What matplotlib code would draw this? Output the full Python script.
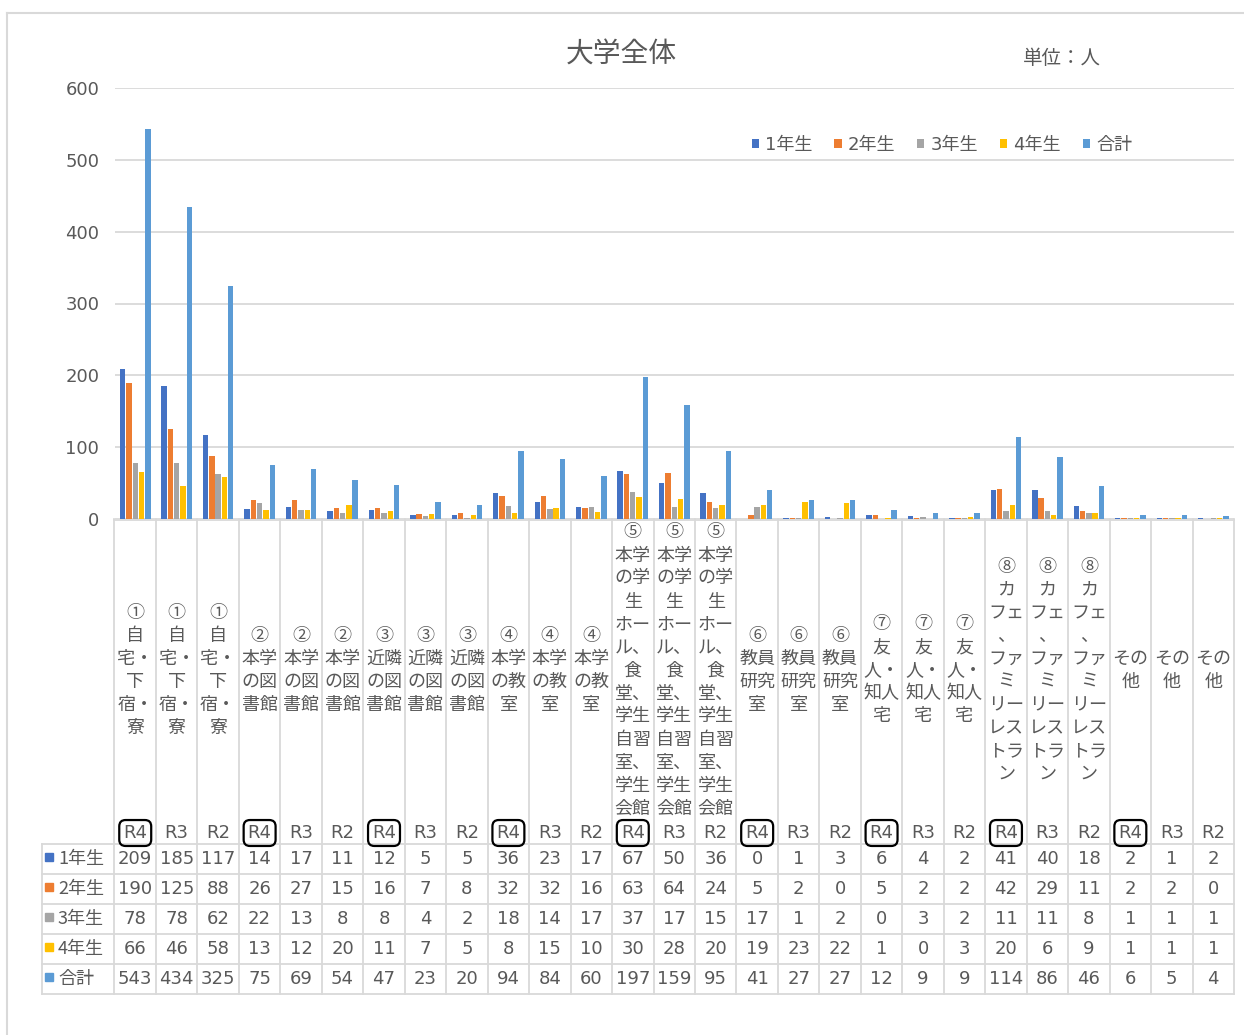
import matplotlib
matplotlib.use('Agg')
import matplotlib.pyplot as plt
from matplotlib import transforms
from matplotlib.lines import Line2D

plt.rcParams['font.family'] = ['DejaVu Sans', 'Noto Sans CJK JP']

# ---------------- data ----------------
series_names = ['1年生', '2年生', '3年生', '4年生', '合計']
colors = ['#4472C4', '#ED7D31', '#A5A5A5', '#FFC000', '#5B9BD5']
years = ['R4', 'R3', 'R2']
categories = ['①自宅・下宿・寮', '②本学の図書館', '③近隣の図書館', '④本学の教室',
              '⑤本学の学生ホール、食堂、学生自習室、学生会館', '⑥教員研究室',
              '⑦友人・知人宅', '⑧カフェ、ファミリーレストラン', 'その他']
category_lines = [
    ['①', '自', '宅・', '下', '宿・', '寮'],
    ['②', '本学', 'の図', '書館'],
    ['③', '近隣', 'の図', '書館'],
    ['④', '本学', 'の教', '室'],
    ['⑤', '本学', 'の学', '生', 'ホー', 'ル、', '食', '堂、', '学生', '自習', '室、', '学生', '会館'],
    ['⑥', '教員', '研究', '室'],
    ['⑦', '友', '人・', '知人', '宅'],
    ['⑧', 'カ', 'フェ', '、', 'ファ', 'ミ', 'リー', 'レス', 'トラ', 'ン'],
    ['その', '他'],
]
grade1 = [209, 185, 117, 14, 17, 11, 12, 5, 5, 36, 23, 17, 67, 50, 36, 0, 1, 3, 6, 4, 2, 41, 40, 18, 2, 1, 2]
grade2 = [190, 125, 88, 26, 27, 15, 16, 7, 8, 32, 32, 16, 63, 64, 24, 5, 2, 0, 5, 2, 2, 42, 29, 11, 2, 2, 0]
grade3 = [78, 78, 62, 22, 13, 8, 8, 4, 2, 18, 14, 17, 37, 17, 15, 17, 1, 2, 0, 3, 2, 11, 11, 8, 1, 1, 1]
grade4 = [66, 46, 58, 13, 12, 20, 11, 7, 5, 8, 15, 10, 30, 28, 20, 19, 23, 22, 1, 0, 3, 20, 6, 9, 1, 1, 1]
total = [543, 434, 325, 75, 69, 54, 47, 23, 20, 94, 84, 60, 197, 159, 95, 41, 27, 27, 12, 9, 9, 114, 86, 46, 6, 5, 4]
series = [grade1, grade2, grade3, grade4, total]
y_ticks = [0, 100, 200, 300, 400, 500, 600]
title = '大学全体'
unit_label = '単位：人'

# ---------------- layout ----------------
W, H = 1244, 1035
TXT = '#595959'
GRID = '#d9d9d9'
fig = plt.figure(figsize=(W / 100, H / 100), dpi=100)


def fx(px):
    return px / W


def fy(py):
    return 1 - py / H


L, R, T, B = 114.5, 1234, 88, 519
ax = fig.add_axes([fx(L), fy(B), fx(R) - fx(L), fy(T) - fy(B)])
ncol = len(total)
xs = list(range(ncol))
ax.set_xlim(-0.5, ncol - 0.5)
ax.set_ylim(0, 600)
for s in ax.spines.values():
    s.set_visible(False)
ax.set_xticks([])
ax.set_yticks(y_ticks)
ax.tick_params(axis='y', length=0, pad=11, labelsize=13, labelcolor=TXT)
ax.yaxis.grid(True, color=GRID, lw=1.3)
ax.set_axisbelow(True)

pitch, bw = 0.152, 0.13
for k, (name, vals, c) in enumerate(zip(series_names, series, colors)):
    ax.bar([x + (k - 2) * pitch for x in xs], vals, width=bw, color=c,
           linewidth=0, label=name, zorder=3, clip_on=False)

leg = ax.legend(loc='center', bbox_to_anchor=(fx(942), fy(145)),
                bbox_transform=fig.transFigure, ncol=5, frameon=False,
                fontsize=13, handlelength=0.4, handleheight=0.4,
                handletextpad=0.35, columnspacing=1.2, borderpad=0)
for t in leg.get_texts():
    t.set_color(TXT)

bt = transforms.blended_transform_factory(ax.transData, fig.transFigure)
colw = (R - L) / ncol
x_left = -0.5 - (L - 42) / colw
x_right = ncol - 0.5

# table grid
row_lines = [844, 874, 904, 934, 964, 994]
for k in range(ncol + 1):
    ax.plot([k - 0.5, k - 0.5], [fy(B), fy(994)], transform=bt, color=GRID,
            lw=1.3, clip_on=False, zorder=1)
ax.plot([x_left, x_left], [fy(844), fy(994)], transform=bt, color=GRID,
        lw=1.3, clip_on=False)
for yl in row_lines:
    ax.plot([x_left, x_right], [fy(yl), fy(yl)], transform=bt, color=GRID,
            lw=1.3, clip_on=False)
ax.plot([-0.5, x_right], [fy(B + 0.7), fy(B + 0.7)], transform=bt, color=GRID,
        lw=1.3, clip_on=False, zorder=2)

# category labels
for g, lines in enumerate(category_lines):
    n = len(lines)
    for j in range(3):
        col = g * 3 + j
        for k, line in enumerate(lines):
            yy = 670.5 + (k - (n - 1) / 2) * 23
            ax.text(col, fy(yy), line, transform=bt, ha='center', va='center',
                    fontsize=13, color=TXT, clip_on=False,
                    family=['Noto Sans CJK JP', 'DejaVu Sans'])
        yr = years[j]
        kw = {}
        if yr == 'R4':
            kw['bbox'] = dict(boxstyle='round,pad=0.22,rounding_size=0.35',
                              fc='none', ec='black', lw=1.6)
        ax.text(col, fy(833), yr, transform=bt, ha='center', va='center',
                fontsize=13, color=TXT, clip_on=False, **kw)

# table values
row_centers = [859, 889, 919, 949, 979]
for r, (name, vals, c) in enumerate(zip(series_names, series, colors)):
    yy = fy(row_centers[r])
    fig.add_artist(Line2D([fx(49)], [yy + 2 / H], marker='s', markersize=5.5,
                          color=c, linestyle='none'))
    fig.text(fx(58), yy, name, ha='left', va='center', fontsize=13, color=TXT,
             family=['Noto Sans CJK JP', 'DejaVu Sans'])
    for col, v in enumerate(vals):
        ax.text(col, yy, str(v), transform=bt, ha='center', va='center',
                fontsize=13, color=TXT, clip_on=False)

# titles
fig.text(fx(621), fy(55), title, ha='center', va='center', fontsize=20,
         color=TXT, family=['Noto Sans CJK JP'])
fig.text(fx(1062), fy(58), unit_label, ha='center', va='center', fontsize=14,
         color=TXT, family=['Noto Sans CJK JP'])

# outer frame
fig.add_artist(Line2D([fx(7), 1], [fy(13), fy(13)], color=GRID, lw=1.5))
fig.add_artist(Line2D([fx(7), fx(7)], [fy(13), 0], color=GRID, lw=1.5))

fig.savefig('out.png', dpi=100)
